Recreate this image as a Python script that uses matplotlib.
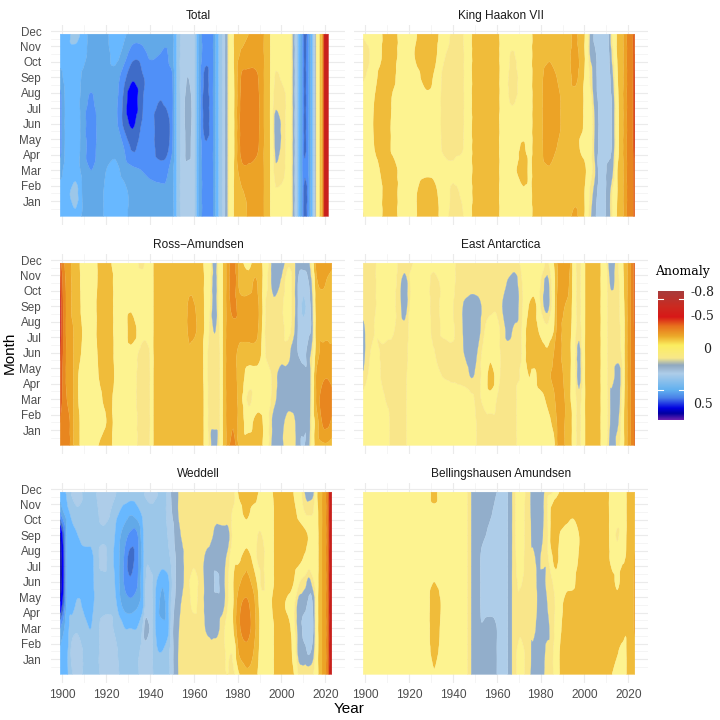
import numpy as np
import matplotlib
matplotlib.use("Agg")
import matplotlib.pyplot as plt
import matplotlib.tri as mtri
from matplotlib.colors import LinearSegmentedColormap

plt.rcParams['font.family'] = ['Liberation Sans', 'DejaVu Sans']

month_pos = [0, 1.5, 3, 4.5, 6, 7.5, 9, 10.5, 11.8]
month_labels = ['Jan','Feb','Mar','Apr','May','Jun','Jul','Aug','Sep','Oct','Nov','Dec']
# anomaly in hundredths; one line per year, months from month_pos
total_years = [1899,1901.5,1906,1909.5,1913,1916,1920,1924,1928,1932,1936,1940,1944.5,1947,1950,1952,1955,1957.5,1960,1962,1965,1968.5,1970.5,1972,1974,1975,1976,1977.5,1979,1982,1985,1989,1992,1994.5,1996,1997.5,2001,2004,2005.5,2006.5,2008,2009.5,2010.7,2013,2014.5,2015.3,2016,2017,2018,2018.7,2019,2020,2021.5]
total_values = [
 [22,22,27,32,32,32,27,22,22],[22,22,23,24,24,24,23,22,22],[21,18,22,23,23,23,22,22,18],[26,26,27,27,27,27,26,23,22],
 [27,27,30,33,34,31,28,27,27],[27,27,28,29,29,28,27,27,27],[24,24,25,27,27,27,27,27,26],[22,22,23,27,28,28,27,23,22],
 [23,23,27,30,36,36,33,27,24],[27,27,29,36,41,44,39,33,27],[27,27,30,33,35,36,36,33,27],[27,27,32,33,33,33,33,29,27],
 [27,28,33,37,38,35,33,30,27],[27,29,32,38,39,34,33,31,27],[27,27,27,31,32,32,31,27,27],[20]*9,[12]*9,
 [12,12,11,9,8,8,10,12,12],[13]*9,[24]*9,[33,33,33,34,37,38,36,33,33],[31]*9,[22]*9,[18]*9,[11]*9,[7]*9,[0]*9,[-5]*9,[-15]*9,
 [-17,-19,-27,-35,-36,-35,-32,-22,-15],[-21,-22,-28,-35,-36,-36,-33,-25,-20],[-25,-25,-26,-32,-33,-33,-31,-25,-25],[-20]*9,[-12]*9,
 [-5,-4,-3,-2,-1,-2,-4,-5,-5],[-5,-1,4,7,8,3,1,-3,-5],[-5,-2,1,2,2,2,-2,-5,-5],[-4]*9,[7]*9,[12]*9,[22]*9,[30]*9,
 [38,38,34,36,36,36,36,36,38],[27]*9,[17]*9,[8]*9,[0]*9,[-8]*9,[-15]*9,[-25]*9,[-45]*9,[-55]*9,[-57]*9]

king_years = [1899,1901.5,1904,1906.5,1909.5,1912.5,1916.5,1920,1923.5,1928,1932,1935,1940,1944,1947,1951,1959.5,1962.5,1967,1972,1975,1977.5,1980,1984,1988,1992,1995.7,1998.7,2000.7,2002.5,2004.7,2007,2011,2013,2015,2017,2018.5,2020.5,2022,2023]
king_values = [
 [1,-4,-6,-6,-6,-6,1,3,-1],[-5,-6,-6,-6,-6,-6,-2,1,-3],[-6,-6,-6,-10,-11,-10,-7,-6,-6],[-7,-7,-10,-14,-15,-15,-12,-8,-7],[-15]*9,
 [-15,-15,-15,-8,-8,-9,-12,-15,-15],[-6]*9,[-7,-6,-6,-6,-6,-6,-6,-6,-7],[-10,-10,-7,-6,-6,-6,-8,-12,-10],[-15,-15,-8,-6,-6,-8,-13,-15,-15],
 [-14,-12,-7,-6,-6,-6,-8,-12,-14],[-5,-5,-3,0.5,1,1,0.5,-2,-5],[2,1,-1,2,3,3,3,2,1],[1,-1,-4,1,2,2,2,2,1],[-6]*9,[-15]*9,[-15]*9,[-6]*9,
 [-6,-6,-6,-6,-4,1,2,0.5,-6],[-6,-8,-16,-11,-6,-5,-3,-5,-6],[-6,-7,-8,-7,-6,-6,-6,-6,-6],[-15]*9,[-15,-15,-17,-18,-18,-18,-18,-15,-15],
 [-17,-17,-19,-26,-27,-27,-25,-18,-15],[-15,-15,-15,-19,-22,-22,-19,-15,-15],[-15]*9,[-23,-16,-15,-15,-15,-15,-23,-26,-22],
 [-13,-13,-14,-8,-12,-13,-14,-14,-14],[-8,-8,-10,-6,-6,-6,-7,-8,-8],[3,1,-4,-5,-5,-4,1,5,5],[9,7,4,6,5,7,8,9,11],[12,12,12,11,11,11,12,12,12],
 [8,8,9,12,12,12,12,11,10],[-2,-2,5,8,8,8,5,1,-3],[-11,-10,-10,-6,-6,-7,-9,-11,-11],[-17]*9,[-24]*9,[-37]*9,[-39]*9,[-44,-44,-45,-55,-56,-56,-55,-50,-45]]

ross_years = [1899,1900.5,1902.5,1905,1907,1909,1913,1916.5,1919.5,1922,1924,1929,1931.5,1936,1939.5,1941.5,1944,1956,1958,1960,1963,1965,1967,1969.5,1971.5,1972.7,1974,1975.5,1978,1981,1985,1988,1990.5,1993,1996.5,2000,2003,2005.5,2007.5,2010,2012.5,2014,2016,2019,2021,2023]
ross_values = [
 [-40,-40,-44,-46,-52,-56,-56,-52,-44],[-36,-36,-37,-37,-38,-38,-38,-36,-32],[-35,-35,-28,-25,-25,-25,-25,-25,-25],[-20,-20,-20,-20,-20,-20,-18,-18,-17],
 [-13,-13,-11,-11,-14,-15,-15,-14,-13],[-7,-7,-6,-6,-9,-10,-8,-7,-7],[-5]*9,[-10,-8,-7,-10,-11,-12,-12,-11,-11],[-15,-9,-12,-15,-15,-15,-15,-15,-15],
 [-12,-14,-12,-15,-15,-15,-15,-15,-11],[-6,-6,-7,-9,-8,-7,-7,-6,-6],[-5,-5,-5,-5,-5,-7,-7,-5,-5],[-5,-5,-5,-5,-6,-17,-8,-5,-5],[3,3,4,4,2,-3,-5,-4,1],
 [1,2,2,2,1,-5,-5,-5,-4],[-10]*9,[-15]*9,[-15]*9,[-15,-15,-15,-15,-18,-24,-24,-15,-15],[-15,-15,-15,-15,-15,-23,-21,-15,-15],[-15]*9,[-8,-8,-8,-7,-7,-9,-9,-9,-8],
 [1,2,2,2,2,0,-2,-4,-5],[9,3,3,3,3,5.5,8,8,8],[0,2,2,2,2,0,-2,-3,-3],[-7]*9,[-15]*9,[-25]*9,[-36,-29,-26,-25,-25,-26,-34,-37,-36],
 [-16,-15,-15,-15,-16,-25,-25,-17,-15],[-15,-7,2,-7,-15,-25,-25,-15,-7],[-15,-12,-5,-7,-15,-25,-25,-22,-15],[-12,-12,-6,-6,-11,-14,-16,-14,-12],
 [-5,-5,-5,-4,1,2,1,-2,-4],[8,7,3,2,2,2,4,7,8],[6,7,8,8,2,2,1,4,8],[2,2,8,7,3,-2,-3,-3,1],[2,3,8,8,8,3,2,2,3],[8,8,8,8,10,10,10,10,8],
 [10.5,8,8,8,12,13,16,13,8],[6,8,8,8,7,11,12,10,6],[-4,-4,-3,-2,2,7,6,3,-3],[-15,-15,-22,-22,-15,-15,-15,-18,-24],[-18,-32,-37,-28,-24,-15,-15,-22,-25],
 [-18,-33,-38,-29,-25,-16,-15,-18,-25],[-15,-28,-33,-26,-22,-18,-15,-15,-23]]

east_years = [1899,1901,1904,1908,1912,1916,1918,1921,1924,1928,1931,1935,1939,1942,1945.5,1948.5,1951.5,1955,1957,1960,1962.5,1965,1968,1971,1974.5,1977,1980,1983,1986,1988,1991,1993.5,1995,1997.5,2000,2001,2006,2008,2009.5,2011,2012.5,2015.5,2017.5,2019,2020.5,2022,2023]
east_values = [
 [-3,-3,-2,4,7,7,2,2,2],[-3,-3,-2,0,2,2,2,2,2],[-5,-5,-5,-3,-2,0,1,1,1],[-5,-4,-1,1,1,-3,-5,-5,-5],[1,1,2,2,1,-1,-3,-5,-5],[1,2,2,2,2,2,4,4,2],
 [1,1,1,1,2,3,8,8.5,2],[-4,-4,-4,-3,-3,-3,-3,-2,1],[-5]*9,[-5,-5,-5,-5,-5,-4,-3,-3,-4],[-3,-5,-5,-4,-0.5,1.5,2,2,-2],[-5,-5,-5,0,1,-0.5,-1,-1,-4],
 [-3,-4,-3,1,1.5,-2,-1,-2,-4],[-2,-2,-2,1,2,2,2,1,1],[-2,-2,-2,2,5.5,6,6,2,1],[-3,-3,-1,5.5,8,8,8.5,2,1],[1,1,1,2,4,7,7,2,1],[1.5,1.5,-3,-5,-5,-1,2,2,1],
 [1,2,-5,-17,-6,-4,2,2,1],[1,1,0,-5,-4,-2,1,3,2],[1,1,2,2,2,2,5,3,2],[1,2,2,2,3.5,6.5,8,5.5,2],[2,2,2,2,2,4,8,8,2],[-5,-5,-5,-1,1,1,2,1,-1],
 [-6,-6,-6,-10,-15,-15,-10,-5,-5],[-6,-6,-6,-8,-15,-15,-14,-5,-5],[-5,-6,-7,-15,-15,-7,0,0,-5],[-3,-7,-12,-18,-12,-2,7,7,1],[-7,-13,-18,-22,-20,-10,-6,-6,-10],
 [-22,-22,-25,-25,-25,-25,-25,-22,-22],[-20,-20,-20,-18,-15,-15,-20,-25,-25],[-15,-15,-11,-11,-11,-12,-15,-18,-20],[-5]*9,[2,2,3,7.5,7,3,2,2,2],
 [-8]*9,[-14]*9,[-15]*9,[-8]*9,[-5]*9,[4,2,2,2,2,2,2,3,5],[8,7,7,2,1,1,2,6,8],[2,5,8,8,2,1,1,1,0],[-6,-6,-4,-2,-3,-3,-5,-7,-9],[-17]*9,[-25]*9,[-36]*9,
 [-42,-42,-41,-41,-41,-42,-44,-46,-47]]

weddell_years = [1899,1900.5,1902,1904.5,1907,1911,1913,1915.5,1918.5,1921,1924,1926,1928.5,1931,1934,1936.5,1938,1940.5,1942.5,1945.5,1948,1950,1951.7,1952.8,1954,1957,1960,1963,1966,1968,1970.5,1973,1975.5,1978,1980.5,1984,1987,1989.5,1991,1994,1996,1999,2003,2005.5,2008,2011,2012.5,2014.5,2016,2017.5,2019.5,2021,2022,2023]
weddell_values = [
 [23,24,30,44,48,48,46,30,22],[22,22,26,36,40,40,37,25,21],[21,21,22,24,24,24,24,22,19],[15,13,17,22,22,22,22,18,14],[13,12,16,19,22,22,20,16,13],
 [17,17,19,22,22,22,18,17,17],[17,17,20,22,22,22,18,17,17],[17,17,17,18,18,17,17,16,15],[12,12,13,17,17,13,16,13,12],[12,12,12,17,17,16,17,14,13],
 [13,13,16,18,20,21,20,18,14],[15,16,17,23,25,25,24,20,17],[17,17,20,27,31,31,28,22,17],[17,17,20,28,34,37,31,24,17],[16,16,20,26,31,32,31,22,17],
 [13,14,15,22,22,23,22,19,16],[12,13,7,14,15,16,16,17,14],[13,13,12,13,14,17,17,16,13],[17,19,20,20,19,17,17,17,14],[17,20,23,27,24,17,17,17,17],
 [17,17,22,22,22,16,15,14,14],[12,12,12,13,15,14,13,10,9],[7,7,7,9,10,10,8,7,6],[5,5,6,8,8,8,6,5,5],[2,2,3,5,7,7,5,2,2],[2]*9,[2,2,2,-1,-3,1.5,2,2,2],[2]*9,
 [2,2,6,7,7,7,2,2,2],[2,3,7,8,8,8,4,2,2],[2,2,7,8,11,8,7,3,2],[1,1,2,7,7,7,7,2,2],[0,-1,-3,0,1,3,7,2,2],[2,-2,-10,-10,-10,-7,-2,-1,2],
 [-9,-21,-28,-27,-18,-8,-5,-6,-12],[-17,-27,-33,-32,-24,-16,-5,-13,-18],[-15,-21,-27,-25,-17,-8,-5,-7,-16],[-9,-11,-13,-11,-7,2,0.5,-6,-10],
 [-5,-5,-5,-5,2,2,0,-5,-5],[-5]*9,[-9,-9,-9,-11,-9,-9,-9,-9,-10],[-15]*9,[-15,-15,-15,-7,-15,-15,-15,-15,-15],[-11,-7,-3,-2,-10.5,-15,-15,-13,-10],
 [1,8,8,8,-1,-13,-15,-7,-5],[1,9,11,9,3,-8,-12,0.5,6],[1,11,13,11,7,-5,-9,1,8],[0,7,10,9,1,-4,-5,0,6],[-5,-5,-5,-5,-5,-5,-5,-6,-8],[-15]*9,[-25]*9,[-35]*9,[-55]*9,[-56]*9]

belling_years = [1899,1927,1928.8,1931.4,1934,1937,1944,1946.3,1947.5,1948.6,1950,1952.5,1955,1957,1960,1963,1965,1966,1967.3,1968.7,1970.6,1973,1975,1976.5,1979,1981,1983,1985,1987,1989,1992,1995,1997.5,2000,2008,2010.5,2013,2015,2017.5,2019.5,2021,2023]
belling_values = [
 [-5]*9,[-5]*9,[-6,-7,-8,-8,-7,-5,-5,-5,-6],[-9,-16,-18,-18,-10,-6,-5,-6,-15],[-6,-8,-10,-11,-7,-5,-5,-5,-5],[-5]*9,[-5]*9,[-1]*9,[3]*9,[5.5]*9,[7]*9,
 [7,7,9.5,10,10,10,9,7,7],[7,7,8,12,12,12,10,7,7],[7,7,8,12,12,12,12,9,7],[10,10,10,12,12,12,12,12,10],[12]*9,[10]*9,[7]*9,[4]*9,[1,1,1,1,1,0,-1,-1,-1],
 [-6,-5,2,2,-1,-5,-6,-6,-6],[1,1,2,2,2,1.5,1,1,0],[4]*9,[7,6,3,2,3,4,6,7,7],[7,7,7,6,6,6,7,7,7],[6,7,8,8,8,3,5,5.5,6],[2,3,7,5,2,2,2,1,2],
 [2,2,2,2,1,-8,-15,-13,1],[-5,-5,-2,-1,-5,-15,-15,-15,-7],[-11,-11,-9,-7,-6,-6,-9,-15,-11],[-15,-15,-15,-15,-7,-5,-5,-15,-15],[-15,-15,-15,-15,-8,-5,-5,-12,-15],
 [-15,-15,-15,-15,-15,-11,-10,-15,-15],[-15]*9,[-15]*9,[-15,-15,-15,-15,-15,-13,-12,-12,-12],[-9,-15,-15,-15,-13,-5,-5,-5,-5],[-5,-11,-15,-15,-7,-5,1,-5,-5],
 [-5,-7,-15,-15,-15,-9,-6,-5,-5],[-11]*9,[-15]*9,[-17,-17,-22,-22,-22,-21,-16,-15,-15]]

panel_names = ['Total','King Haakon VII','Ross\u2212Amundsen','East Antarctica','Weddell','Bellingshausen Amundsen']
panel_years = [total_years,king_years,ross_years,east_years,weddell_years,belling_years]
panel_values = [total_values,king_values,ross_values,east_values,weddell_values,belling_values]

edges = [-80,-60,-50,-40,-30,-20,-10,0,5,10,15,20,25,30,35,40,45,60]
band_colors = ['#a83838','#c8201c','#e0601e','#e8861f','#eca326','#f0bc3a','#fdf390','#f9e68a','#92aecb',
               '#aecde9','#9cc7e9','#68b8ff','#62a9e8','#5090f8','#3f6cc8','#0000ff','#000099']
legend_stops = [(0,'#a83c3c'),(0.12,'#cc2a20'),(0.2,'#d81818'),(0.27,'#e8701e'),(0.35,'#ecaa2a'),(0.42,'#fcee60'),
                (0.52,'#f8e88a'),(0.575,'#90a8c0'),(0.64,'#aecde9'),(0.77,'#60b0f0'),(0.83,'#4a80e8'),(0.91,'#0000e0'),(0.95,'#0000a0'),(1,'#6a20b0')]
legend_labels = ['-0.8','-0.5','0','0.5']
legend_label_pos = [0.015,0.195,0.45,0.876]
legend_label_x = [1.7,1.7,1.9,1.75]
legend_ticks = [0.06,0.77]

def smooth_field(years, values):
    """Draw the read grid through matplotlib's own cubic triangle interpolator."""
    Z = np.array(values, dtype=float).T / 100.0
    ny, nx = Z.shape
    xi, yi = np.meshgrid(np.arange(nx, dtype=float), np.arange(ny, dtype=float))
    tri = mtri.Triangulation(xi.ravel(), yi.ravel())
    interp = mtri.CubicTriInterpolator(tri, Z.ravel(), kind='geom')
    fx = np.linspace(0, nx-1, (nx-1)*5+1)
    fy = np.linspace(0, ny-1, (ny-1)*10+1)
    eps = 1e-9
    FX, FY = np.meshgrid(np.clip(fx, eps, nx-1-eps), np.clip(fy, eps, ny-1-eps))
    F = np.ma.filled(interp(FX, FY), np.nan)
    return np.interp(fx, np.arange(nx), years), np.interp(fy, np.arange(ny), month_pos), F

W = H = 720.0
lefts = [51, 354]; width = 294
tops = [25, 254, 483]; height = 200
fig = plt.figure(figsize=(7.2, 7.2), dpi=100, facecolor='white')
for i, name in enumerate(panel_names):
    r, c = i // 2, i % 2
    ax = fig.add_axes([lefts[c]/W, 1-(tops[r]+height)/H, width/W, height/H])
    ax.set_xlim(1894.8, 2029)
    ax.set_ylim(-0.55, 12.39)
    for s in ax.spines.values():
        s.set_visible(False)
    ax.set_axisbelow(True)
    ax.set_xticks(range(1900, 2021, 20))
    ax.set_xticks(range(1910, 2021, 20), minor=True)
    ax.set_yticks(range(1, 13))
    ax.set_yticks(np.arange(0.5, 12.5, 1), minor=True)
    ax.grid(True, which='major', color='#ebebeb', lw=0.8)
    ax.grid(True, which='minor', color='#f2f2f2', lw=0.5)
    ax.tick_params(which='both', length=0)
    ax.set_yticklabels(month_labels if c == 0 else [], fontsize=8.4, color='#4d4d4d')
    if r == 2:
        ax.set_xticklabels([str(y) for y in range(1900, 2021, 20)], fontsize=8.6, color='#4d4d4d')
    else:
        ax.set_xticklabels([])
    ax.tick_params(axis='y', pad=7)
    ax.tick_params(axis='x', pad=4)
    ax.set_title(name, fontsize=8.6, color='#1a1a1a', pad=4.5)
    X, Y, F = smooth_field(panel_years[i], panel_values[i])
    cs = ax.contourf(X, Y, F, levels=np.array(edges)/100.0, colors=band_colors, antialiased=True)
    cs.set_edgecolor('face')
    cs.set_linewidth(0.2)

fig.text(349/W, 1-709/H, 'Year', ha='center', va='center', fontsize=11, color='black')
fig.text(10/W, 1-353/H, 'Month', ha='center', va='center', rotation=90, fontsize=11, color='black')

serif = ['DejaVu Serif']
fig.text(683/W, 1-272/H, 'Anomaly', ha='center', va='center', fontsize=9, family=serif, color='black')
lax = fig.add_axes([658/W, 1-420/H, 26/W, 129/H])
cmap = LinearSegmentedColormap.from_list('anom', legend_stops)
lax.imshow(np.linspace(0, 1, 256)[:, None], cmap=cmap, aspect='auto', extent=[0, 1, 1, 0])
lax.set_xlim(0, 1); lax.set_ylim(1, 0)
lax.axis('off')
for t in legend_ticks:
    lax.plot([0, 0.2], [t, t], color='white', lw=0.8)
    lax.plot([0.8, 1], [t, t], color='white', lw=0.8)
for lab, p, lx in zip(legend_labels, legend_label_pos, legend_label_x):
    lax.text(lx, p, lab, ha='center', va='center', fontsize=9, family=serif, color='#222222', clip_on=False)

fig.savefig('out.png', dpi=100, facecolor='white')
